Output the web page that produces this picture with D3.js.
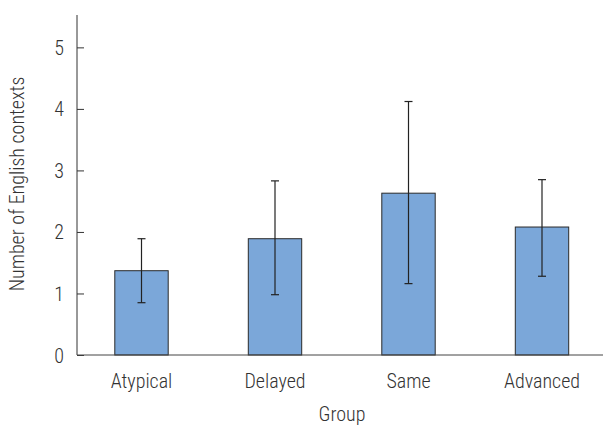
<!DOCTYPE html>
<html><head><meta charset="utf-8">
<script src="https://cdn.jsdelivr.net/npm/d3@7"></script>
<style>
body{margin:0;background:#fff;}
text{font-family:"Roboto Condensed","Liberation Sans Narrow",Roboto,sans-serif;font-weight:300;fill:#333;}
</style></head><body>
<svg id="c" width="605" height="427"></svg>
<script>
const categories = ["Atypical","Delayed","Same","Advanced"];
const means = [1.37, 1.89, 2.63, 2.08];
const errLow = [0.85, 0.98, 1.16, 1.28];
const errHigh = [1.89, 2.83, 4.12, 2.85];
const yTicks = [0,1,2,3,4,5];

const svg = d3.select("#c");
const y = d3.scaleLinear().domain([0,5.5]).range([355,16.6]);
const x = d3.scaleBand().domain(categories).range([74.75,608.75]).paddingInner(0.6).paddingOuter(0.3);

// bars
svg.selectAll("rect.bar").data(categories).join("rect")
  .attr("x", d=>x(d)).attr("width", x.bandwidth())
  .attr("y", (d,i)=>y(means[i])).attr("height",(d,i)=>y(0)-y(means[i]))
  .attr("fill","#7ba7d9").attr("stroke","#2a2a2a").attr("stroke-width",1);

// error bars
const eb = svg.append("g").attr("stroke","#222").attr("stroke-width",1.2);
categories.forEach((c,i)=>{
  const cx = x(c)+x.bandwidth()/2;
  eb.append("line").attr("x1",cx).attr("x2",cx).attr("y1",y(errLow[i])).attr("y2",y(errHigh[i]));
  eb.append("line").attr("x1",cx-4).attr("x2",cx+4).attr("y1",y(errLow[i])).attr("y2",y(errLow[i]));
  eb.append("line").attr("x1",cx-4).attr("x2",cx+4).attr("y1",y(errHigh[i])).attr("y2",y(errHigh[i]));
});

// y axis
const ya = svg.append("g").attr("transform","translate(77,0)")
  .call(d3.axisRight(y).tickValues(yTicks).tickFormat(d3.format("d")).tickSize(7).tickSizeOuter(0));
ya.select(".domain").attr("stroke","#333").attr("d","M0,15V355");
ya.selectAll(".tick line").attr("stroke","#333");
ya.selectAll(".tick text").attr("x",-13).attr("text-anchor","end").attr("font-size",20).attr("dy","0.35em");

// x axis line
const xa = svg.append("g").attr("transform","translate(0,355)")
  .call(d3.axisBottom(x).tickSize(0).tickPadding(19));
xa.select(".domain").attr("stroke","#444").attr("d","M77,0H603");
xa.selectAll(".tick text").attr("font-size",20);

// titles
svg.append("text").attr("x",342).attr("y",421).attr("text-anchor","middle").attr("font-size",20).text("Group");
svg.append("text").attr("transform","translate(24,184) rotate(-90)").attr("text-anchor","middle").attr("font-size",20).text("Number of English contexts");
</script>
</body></html>
